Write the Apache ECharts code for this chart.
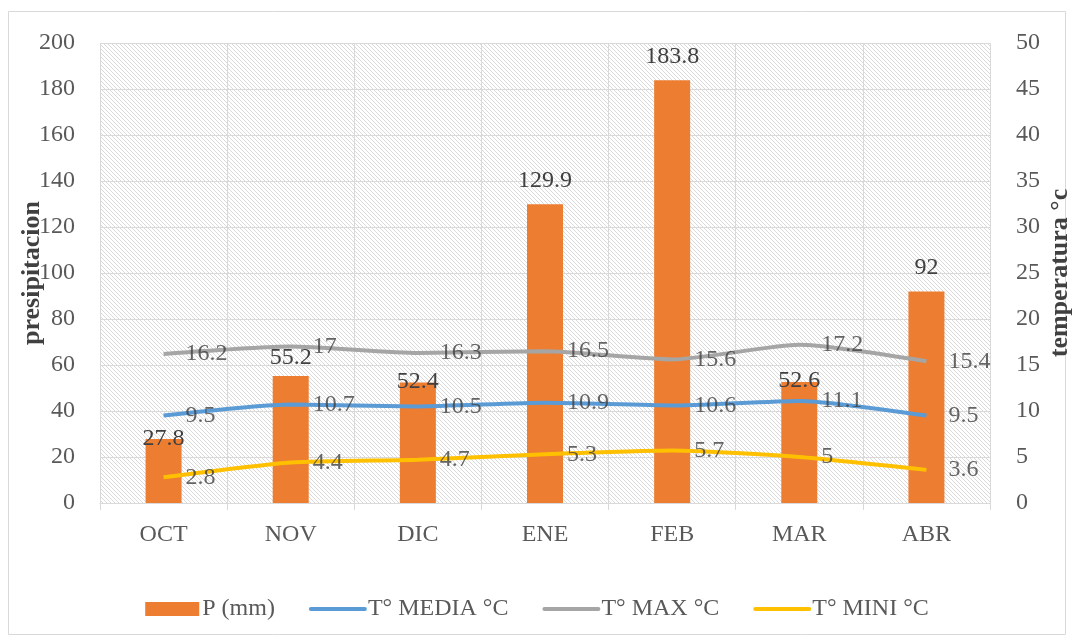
<!DOCTYPE html>
<html><head><meta charset="utf-8">
<script src="https://cdn.jsdelivr.net/npm/echarts@6/dist/echarts.min.js"></script>
<style>html,body{margin:0;padding:0;background:#fff}#c{width:1074px;height:642px}</style>
</head><body><div id="c"></div>
<script>
const categories = ['OCT','NOV','DIC','ENE','FEB','MAR','ABR'];
const precip = [27.8, 55.2, 52.4, 129.9, 183.8, 52.6, 92];
const tMedia = [9.5, 10.7, 10.5, 10.9, 10.6, 11.1, 9.5];
const tMax = [16.2, 17, 16.3, 16.5, 15.6, 17.2, 15.4];
const tMin = [2.8, 4.4, 4.7, 5.3, 5.7, 5, 3.6];
// vertical nudges (px) of the bar value labels, as placed in the reference
const barLabelNudge = [24, 6, 23, 0, 0, 23, 0];

const FONT = '"Liberation Serif", serif';
const FS = 24;
const pc = document.createElement('canvas');
pc.width = 4; pc.height = 4;
const g = pc.getContext('2d');
g.fillStyle = '#ffffff'; g.fillRect(0,0,4,4);
g.strokeStyle = '#d9d9d9'; g.lineWidth = 1;
g.beginPath(); g.moveTo(-1,-1); g.lineTo(5,5); g.moveTo(-1,3); g.lineTo(1,5); g.moveTo(3,-1); g.lineTo(5,1); g.stroke();

const chart = echarts.init(document.getElementById('c'));
function lineSeries(name, data, color){
  return [
    {name, type:'line', yAxisIndex:1, data, symbol:'none', smooth:0.2,
     lineStyle:{color, width:4}, itemStyle:{color}, z:3},
    {name: name + ' lbl', type:'scatter', yAxisIndex:1, data, symbolSize:0, silent:true,
     itemStyle:{color}, z:4,
     label:{show:true, position:'right', distance:22, color:'#404040', fontFamily:FONT, fontSize:FS}}
  ];
}
const lineLegend = n => ({name:n, itemStyle:{opacity:0}, lineStyle:{width:4, cap:'round'}});
chart.setOption({
  animation:false,
  textStyle:{fontFamily:FONT},
  graphic:[{type:'rect', shape:{x:8.5,y:11.5,width:1057,height:623}, style:{fill:'none', stroke:'#d9d9d9', lineWidth:1}, z:-10}],
  grid:{left:100, right:84, top:43, bottom:139, show:true, containLabel:false, outerBoundsMode:'none',
    backgroundColor:{image:pc, repeat:'repeat'}, borderWidth:0},
  legend:{top:592, left:'center', itemWidth:54, itemHeight:14, itemGap:34,
    textStyle:{color:'#595959', fontFamily:FONT, fontSize:FS, padding:[0,0,0,-2]},
    data:[{name:'P (mm)', icon:'rect'}, lineLegend('T° MEDIA °C'), lineLegend('T° MAX °C'), lineLegend('T° MINI °C')]},
  xAxis:{type:'category', data:categories,
    axisLine:{lineStyle:{color:'#d9d9d9', width:1}},
    axisTick:{show:true, length:7, interval:0, lineStyle:{color:'#d9d9d9'}},
    axisLabel:{color:'#595959', fontFamily:FONT, fontSize:FS, margin:20},
    splitLine:{show:true, interval:0, lineStyle:{color:'#d9d9d9', width:1}}},
  yAxis:[
    {type:'value', min:0, max:200, interval:20, name:'presipitacion', nameLocation:'middle', nameGap:55, nameMoveOverlap:false,
     nameTextStyle:{color:'#404040', fontFamily:FONT, fontSize:26, fontWeight:'bold'},
     axisLabel:{color:'#595959', fontFamily:FONT, fontSize:FS, margin:25},
     axisLine:{show:false}, axisTick:{show:false},
     splitLine:{lineStyle:{color:'#d9d9d9', width:1}}},
    {type:'value', min:0, max:50, interval:5, name:'temperatura °c', nameLocation:'middle', nameGap:57, nameRotate:90, nameMoveOverlap:false,
     nameTextStyle:{color:'#404040', fontFamily:FONT, fontSize:26, fontWeight:'bold'},
     axisLabel:{color:'#595959', fontFamily:FONT, fontSize:FS, margin:26},
     axisLine:{show:false}, axisTick:{show:false}, splitLine:{show:false}}
  ],
  series:[
    {name:'P (mm)', type:'bar', barWidth:36, itemStyle:{color:'#ED7D31'},
     data: precip.map((v,i) => ({value:v, label:{offset:[0, barLabelNudge[i]]}})),
     label:{show:true, position:'top', distance:12, color:'#404040', fontFamily:FONT, fontSize:FS}, z:2},
    ...lineSeries('T° MEDIA °C', tMedia, '#5B9BD5'),
    ...lineSeries('T° MAX °C', tMax, '#A5A5A5'),
    ...lineSeries('T° MINI °C', tMin, '#FFC000')
  ]
});
</script></body></html>
